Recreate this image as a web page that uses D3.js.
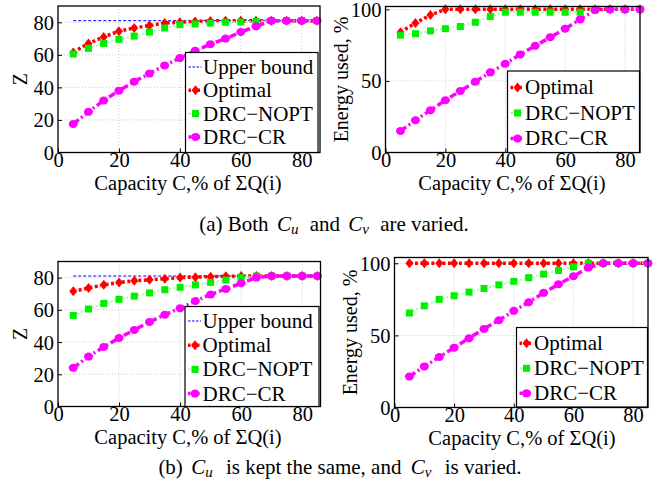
<!DOCTYPE html>
<html><head><meta charset="utf-8">
<script src="https://cdn.jsdelivr.net/npm/d3@7"></script>
<style>body{margin:0;background:#fff}svg{display:block}svg text{font-family:"Liberation Serif","DejaVu Serif",Times,serif !important;fill:#000}</style>
</head><body><svg id="c" width="657" height="493"></svg>
<script>
// ---- data ----
const capacity = [5,10,15,20,25,30,35,40,45,50,55,60,65,70,75,80,85];
const zTicks = [0,20,40,60,80];
const energyTicks = [0,50,100];
const xTicks = [0,20,40,60,80];

// (a) both varied
const aUpper   = [81,81,81,81,81,81,81,81,81,81,81,81,81,81,81,81,81];
const aZOpt    = [61.5,67,71,74.5,76.5,78,79.5,80,80.5,80.8,81,81,81,81,81,81,81];
const aZNopt   = [60.5,64,67,69.5,71.5,74,76.5,78.5,79,79.5,80,80.2,80.5,81,81,81,81];
const aZCr     = [17.5,25,32,38,43.5,48.5,53.5,58,62.5,66.5,70,74,77.5,81,81,81,81];
const aEOpt    = [84,90.5,96,100,100,100,100,100,100,100,100,100,100,100,100,100,100];
const aENopt   = [82,83,85,86.5,88,91,95,98,98,98,98,98,98,100,100,100,100];
const aECr     = [15,22.5,29.5,36.5,43,49.5,56,62,68.5,74.5,80.5,86.5,93,99.5,100,100,100];
// (b) Cu same, Cv varied
const bUpper   = [81,81,81,81,81,81,81,81,81,81,81,81,81,81,81,81,81];
const bZOpt    = [71.5,73.5,75.5,77,78,78.7,79.3,80,80.3,80.6,80.8,81,81,81,81,81,81];
const bZNopt   = [56.5,60.5,64,66.5,68.5,70.5,72.5,74,75.5,77,78.5,80,81,81,81,81,81];
const bZCr     = [24,31,37,42.5,47.5,52.5,57,61,65.5,69.5,73,76.5,80,81,81,81,81];
const bEOpt    = [100,100,100,100,100,100,100,100,100,100,100,100,100,100,100,100,100];
const bENopt   = [65.5,70.5,75,77.5,80,82.5,85,87.5,90,92.5,95,97.5,100,100,100,100,100];
const bECr     = [21.5,28.5,35,41.5,48,54.5,60.5,67,73,79.5,85.5,91,97,100,100,100,100];

const seriesNames = ["Upper bound","Optimal","DRC\u2212NOPT","DRC\u2212CR"];
const xTitle = "Capacity C,% of \u03A3Q(i)";

// ---- styles ----
const FONT = '"Liberation Serif","DejaVu Serif",Times,serif';
const styles = {
  "Upper bound": {stroke:"#0000ff", width:1, dash:"3,2", marker:null},
  "Optimal": {stroke:"#ff0000", width:3.5, dash:"3,2.5", marker:"diamond", fill:"#ff0000"},
  "DRC\u2212NOPT": {stroke:"#99ff99", width:1.8, dash:"2,2", marker:"square", fill:"#00ee00"},
  "DRC\u2212CR": {stroke:"#ff00ff", width:3.5, dash:"7,3,2,3", marker:"circle", fill:"#ff00ff"}
};

const svg = d3.select("#c").attr("font-family", FONT);

function marker(g, type, x, y, fill){
  if(type==="diamond"){
    g.append("path").attr("d",`M${x},${y-5}L${x+4},${y}L${x},${y+5}L${x-4},${y}Z`).attr("fill",fill);
  } else if(type==="square"){
    g.append("rect").attr("x",x-3.5).attr("y",y-3.5).attr("width",7).attr("height",7).attr("fill",fill);
  } else if(type==="circle"){
    g.append("ellipse").attr("cx",x).attr("cy",y).attr("rx",4.5).attr("ry",4).attr("fill",fill);
  }
}

function txt(sel, size){ return sel.attr("font-family",FONT).style("font-family",FONT).style("font-size",size+"px"); }

function panel(cfg){
  const g = svg.append("g");
  const x = d3.scaleLinear().domain([0,cfg.xmax]).range([cfg.left,cfg.right]);
  const y = d3.scaleLinear().domain([0,cfg.ymax]).range([cfg.bottom,cfg.top]);
  // grid
  g.selectAll(".gx").data(cfg.xticks.filter(d=>d>0)).enter().append("line")
    .attr("x1",d=>x(d)).attr("x2",d=>x(d)).attr("y1",cfg.top).attr("y2",cfg.bottom)
    .attr("stroke","#bbb").attr("stroke-width",0.8).attr("stroke-dasharray","1,2");
  g.selectAll(".gy").data(cfg.yticks.filter(d=>d>0)).enter().append("line")
    .attr("x1",cfg.left).attr("x2",cfg.right).attr("y1",d=>y(d)).attr("y2",d=>y(d))
    .attr("stroke","#bbb").attr("stroke-width",0.8).attr("stroke-dasharray","1,2");
  // series
  const clip = "clip"+cfg.id;
  g.append("clipPath").attr("id",clip).append("rect")
    .attr("x",cfg.left).attr("y",cfg.top-6).attr("width",cfg.right-cfg.left+6).attr("height",cfg.bottom-cfg.top+6);
  const dg = g.append("g").attr("clip-path",`url(#${clip})`);
  cfg.series.forEach(s=>{
    const st = styles[s.name];
    const line = d3.line().x((d,i)=>x(capacity[i])).y(d=>y(d));
    dg.append("path").attr("d",line(s.values)).attr("fill","none")
      .attr("stroke",st.stroke).attr("stroke-width",st.width).attr("stroke-dasharray",st.dash);
  });
  cfg.series.forEach(s=>{
    const st = styles[s.name];
    if(st.marker) s.values.forEach((v,i)=>marker(dg, st.marker, x(capacity[i]), y(v), st.fill));
  });
  // axes
  const ax = g.append("g").attr("transform",`translate(0,${cfg.bottom})`)
    .call(d3.axisBottom(x).tickValues(cfg.xticks).tickSize(-4).tickPadding(4.5));
  const ay = g.append("g").attr("transform",`translate(${cfg.left},0)`)
    .call(d3.axisLeft(y).tickValues(cfg.yticks).tickSize(-4).tickPadding(4));
  [ax,ay].forEach(a=>{
    a.attr("font-family",FONT);
    a.select(".domain").remove();
    a.selectAll("line").attr("stroke","#000");
    txt(a.selectAll("text"),20.5).attr("fill","#000");
  });
  ax.selectAll("text").attr("dy","0.5em");
  ay.selectAll("text").attr("dy","0.34em");
  // frame
  g.append("rect").attr("x",cfg.left).attr("y",cfg.top).attr("width",cfg.right-cfg.left).attr("height",cfg.bottom-cfg.top)
    .attr("fill","none").attr("stroke","#000").attr("stroke-width",1.3);
  // titles
  txt(g.append("text"),20.5).attr("x",cfg.xtx).attr("y",cfg.bottom+37.5).attr("text-anchor","middle").text(xTitle);
  txt(g.append("text"),20).attr("transform",`translate(${cfg.ytx},${(cfg.top+cfg.bottom)/2}) rotate(-90)`)
    .attr("text-anchor","middle").text(cfg.ylabel);
  // legend
  const L = cfg.legend;
  const lg = g.append("g");
  lg.append("rect").attr("x",L.x).attr("y",L.y).attr("width",L.w).attr("height",L.h)
    .attr("fill","#fff").attr("stroke","#000").attr("stroke-width",1.2);
  cfg.series.forEach((s,i)=>{
    const st = styles[s.name];
    const cy = L.y + L.first + i*L.step;
    lg.append("line").attr("x1",L.x+3).attr("x2",L.x+16).attr("y1",cy).attr("y2",cy)
      .attr("stroke",st.stroke).attr("stroke-width",st.width).attr("stroke-dasharray",st.marker?"2.5,2":"2.5,1.5");
    if(st.marker) marker(lg, st.marker, L.x+10, cy, st.fill);
    txt(lg.append("text"),21).attr("x",L.x+17.5).attr("y",cy).attr("dy","0.33em").text(s.name);
  });
}

panel({id:"a1", left:58, right:320, top:6, bottom:152.5, xmax:86, ymax:90, xticks:xTicks, yticks:zTicks,
  ylabel:"Z", ytx:27, xtx:188,
  series:[{name:seriesNames[0],values:aUpper},{name:seriesNames[1],values:aZOpt},{name:seriesNames[2],values:aZNopt},{name:seriesNames[3],values:aZCr}],
  legend:{x:185.5,y:52.5,w:132.5,h:100,first:14.5,step:23.3}});
panel({id:"a2", left:385.5, right:640, top:6.5, bottom:152.5, xmax:85, ymax:102, xticks:xTicks, yticks:energyTicks,
  ylabel:"Energy used, %", ytx:348, xtx:512,
  series:[{name:seriesNames[1],values:aEOpt},{name:seriesNames[2],values:aENopt},{name:seriesNames[3],values:aECr}],
  legend:{x:507.5,y:71,w:132,h:81.5,first:16.5,step:25.5}});
panel({id:"b1", left:58, right:320.5, top:261.5, bottom:406.5, xmax:86, ymax:90, xticks:xTicks, yticks:zTicks,
  ylabel:"Z", ytx:27, xtx:188,
  series:[{name:seriesNames[0],values:bUpper},{name:seriesNames[1],values:bZOpt},{name:seriesNames[2],values:bZNopt},{name:seriesNames[3],values:bZCr}],
  legend:{x:185,y:306.5,w:134,h:100,first:14.5,step:24.2}});
panel({id:"b2", left:394.5, right:648, top:257.5, bottom:407.5, xmax:85, ymax:104, xticks:xTicks, yticks:energyTicks,
  ylabel:"Energy used, %", ytx:357, xtx:522,
  series:[{name:seriesNames[1],values:bEOpt},{name:seriesNames[2],values:bENopt},{name:seriesNames[3],values:bECr}],
  legend:{x:516.5,y:327.5,w:131,h:79.5,first:15.8,step:25}});

// captions
function caption(xc, yb, parts){
  const t = txt(svg.append("text"),21).attr("x",xc).attr("y",yb).attr("text-anchor","middle");
  parts.forEach(p=>{
    const ts = t.append("tspan").text(p.t);
    if(p.i) ts.style("font-style","italic");
    if(p.sub) ts.attr("baseline-shift","-22%").style("font-size","15px");
    if(p.dx) ts.attr("dx",p.dx);
  });
}
caption(334, 231, [{t:"(a) Both "},{t:"C",i:1,dx:3},{t:"u",i:1,sub:1},{t:" and ",dx:6},{t:"C",i:1,dx:3},{t:"v",i:1,sub:1},{t:" are varied.",dx:6}]);
caption(340, 474, [{t:"(b) "},{t:"C",i:1,dx:3},{t:"u",i:1,sub:1},{t:" is kept the same, and ",dx:8},{t:"C",i:1,dx:4},{t:"v",i:1,sub:1},{t:" is varied.",dx:8}]);
</script></body></html>
